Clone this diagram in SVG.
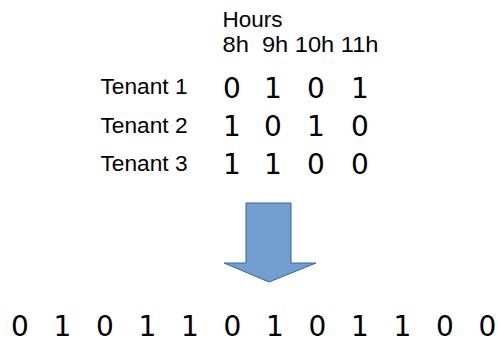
<svg xmlns="http://www.w3.org/2000/svg" width="498" height="340" viewBox="0 0 498 340">
<style>
.lbl{font-family:"Liberation Sans",Arial,sans-serif;fill:#000}
.dig{font-family:"DejaVu Sans",sans-serif;fill:#000;text-anchor:middle}
</style>
<rect width="498" height="340" fill="#fff"/>
<g id="header">
<text class="lbl" x="222.5" y="26.5" font-size="21.5" textLength="60" lengthAdjust="spacingAndGlyphs">Hours</text>
<text class="lbl" x="222.5" y="51.5" font-size="21.5" xml:space="preserve" textLength="156" lengthAdjust="spacingAndGlyphs">8h  9h 10h 11h</text>
</g>
<g id="tenants">
<text class="lbl" x="100.5" y="94" font-size="22" textLength="87" lengthAdjust="spacingAndGlyphs">Tenant 1</text>
<text class="lbl" x="100.5" y="132.5" font-size="22" textLength="87" lengthAdjust="spacingAndGlyphs">Tenant 2</text>
<text class="lbl" x="100.5" y="171" font-size="22" textLength="87" lengthAdjust="spacingAndGlyphs">Tenant 3</text>
</g>
<g id="table" font-size="28">
<text class="dig" x="232" y="97.5">0</text><text class="dig" x="273" y="97.5">1</text><text class="dig" x="316" y="97.5">0</text><text class="dig" x="360" y="97.5">1</text>
<text class="dig" x="232" y="135.5">1</text><text class="dig" x="273" y="135.5">0</text><text class="dig" x="316" y="135.5">1</text><text class="dig" x="360" y="135.5">0</text>
<text class="dig" x="232" y="173.5">1</text><text class="dig" x="273" y="173.5">1</text><text class="dig" x="316" y="173.5">0</text><text class="dig" x="360" y="173.5">0</text>
</g>
<g id="connectors">
<path id="arrow" d="M246,203 H291 V263 H316 L269,282 L224,263 H246 Z" fill="#729fcf" stroke="#3465a4" stroke-width="1"/>
</g>
<g id="result" font-size="28">
<text class="dig" x="20" y="336">0</text>
<text class="dig" x="62.5" y="336">1</text>
<text class="dig" x="105" y="336">0</text>
<text class="dig" x="147.5" y="336">1</text>
<text class="dig" x="190" y="336">1</text>
<text class="dig" x="232.5" y="336">0</text>
<text class="dig" x="275" y="336">1</text>
<text class="dig" x="317.5" y="336">0</text>
<text class="dig" x="360" y="336">1</text>
<text class="dig" x="402.5" y="336">1</text>
<text class="dig" x="445" y="336">0</text>
<text class="dig" x="487.5" y="336">0</text>
</g>
</svg>
